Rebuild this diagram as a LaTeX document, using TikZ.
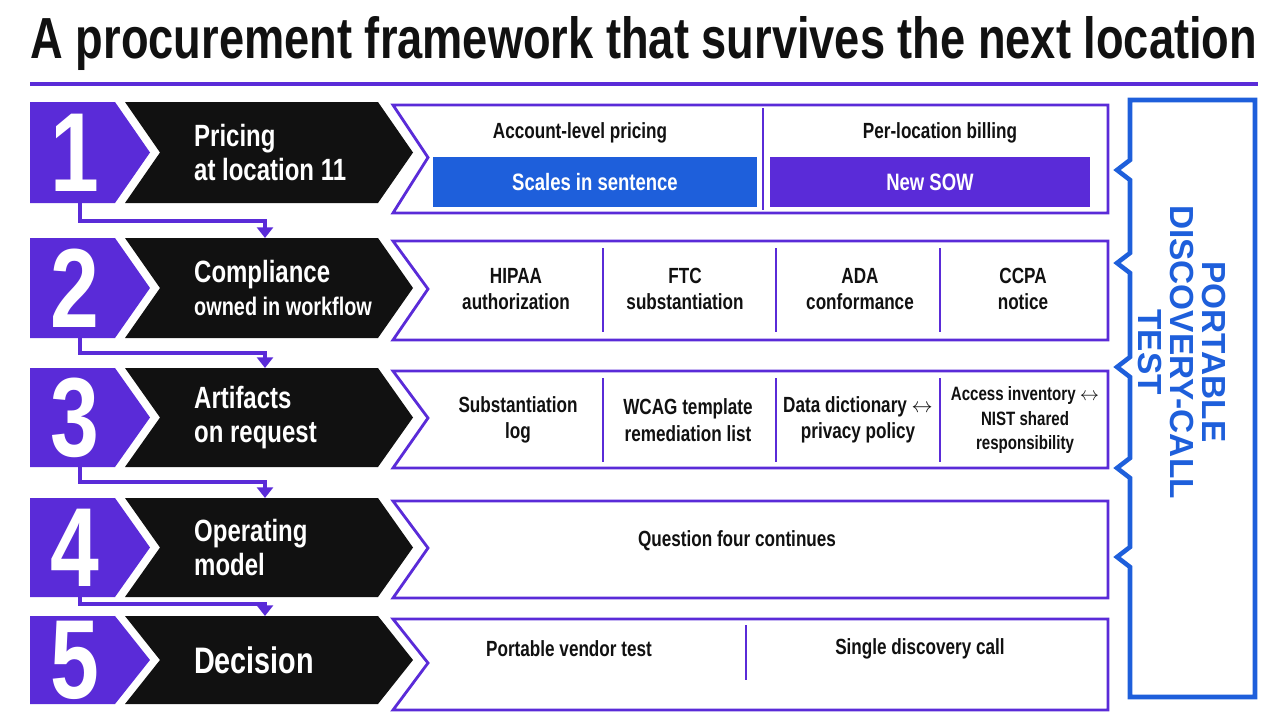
\documentclass[tikz,border=0pt]{standalone}
\usepackage{fontspec}
\setmainfont{Liberation Sans}
\newfontfamily\cond[FakeStretch=0.78]{Liberation Sans}
\usetikzlibrary{arrows.meta, positioning, calc}
\definecolor{violet}{HTML}{5A2BD8}
\definecolor{ink}{HTML}{111111}
\definecolor{royal}{HTML}{1E5FDB}

\begin{document}
\begin{tikzpicture}[
  x=0.02cm, y=-0.02cm,
  title/.style={font=\cond\bfseries\fontsize{33}{36}\selectfont, text=ink},
  num/.style={font=\cond\bfseries\fontsize{64}{66}\selectfont, text=white},
  tag/.style={font=\cond\bfseries\fontsize{17.5}{19}\selectfont, text=white, align=left, anchor=west},
  cell/.style={font=\cond\bfseries\fontsize{12.5}{15}\selectfont, text=ink, align=center},
  pill/.style={font=\cond\bfseries\fontsize{13.5}{15}\selectfont, text=white, minimum height=1cm},
  frame/.style={draw=violet, line width=1.6pt, fill=white},
  split/.style={draw=violet, line width=1pt},
  link/.style={draw=violet, line width=2pt, -{Triangle[length=6pt,width=9pt]}}
]
  \useasboundingbox (0,0) rectangle (1280,720);

  % Title
  \node[title] (head) at (644,44) {A procurement framework that survives the next location};
  \draw[violet, line width=2pt] (30,84) -- (1258,84);

  % Rows: index / top / bottom / box bottom / label
  \foreach \i/\t/\b/\e/\lab in {1/102/203/213/{Pricing\\at location 11},
                            2/238/338/340/{Compliance\\{\fontsize{14.5}{17}\selectfont owned in workflow}},
                            3/368/467/468/{Artifacts\\on request},
                            4/498/597/598/{Operating\\model},
                            5/616/704/710/{\fontsize{21}{22}\selectfont Decision}} {
    \pgfmathsetmacro{\m}{(\t+\b)/2}
    \fill[violet] (30,\t) -- (115,\t) -- (150,\m) -- (115,\b) -- (30,\b) -- cycle;
    \fill[ink] (125,\t) -- (378,\t) -- (413,\m) -- (378,\b) -- (125,\b) -- (160,\m) -- cycle;
    \path[frame] (393,\t+3) -- (1108,\t+3) -- (1108,\e) -- (393,\e) -- (428,\t/2+\e/2) -- cycle;
    \node[num] (num\i) at (75,\m) {\i};
    \node[tag] (tag\i) at (188,\m) {\lab};
    \coordinate (sq\i) at (80,\b);
    \coordinate (in\i) at (265,\t);
  }

  % Row 1
  \draw[split] (763,108) -- (763,210);
  \node[cell] (acct) at (580,133) {Account-level pricing};
  \node[cell] (perloc) at (940,133) {Per-location billing};
  \node[pill, fill=royal, minimum width=6.48cm] (scale) at (595,182) {Scales in sentence};
  \node[pill, fill=violet, minimum width=6.4cm] (sow) at (930,182) {New SOW};

  % Rows 2 and 3
  \foreach \x in {603,776,940} {
    \draw[split] (\x,248) -- (\x,332);
    \draw[split] (\x,378) -- (\x,462);
  }
  \node[cell] (hipaa) at (516,289) {HIPAA\\authorization};
  \node[cell] (ftc) at (685,289) {FTC\\substantiation};
  \node[cell] (ada) at (860,289) {ADA\\conformance};
  \node[cell] (ccpa) at (1023,289) {CCPA\\notice};
  \node[cell] (sublog) at (518,420) {Substantiation\\log};
  \node[cell] (wcag) at (688,420) {WCAG template\\remediation list};
  \node[cell] (dict) at (858,420) {Data dictionary $\leftrightarrow$\\privacy policy};
  \node[cell, font=\cond\bfseries\fontsize{11}{14}\selectfont] (access) at (1025,420)
    {Access inventory $\leftrightarrow$\\NIST shared\\responsibility};

  % Row 4
  \node[cell] (q4) at (737,541) {Question four continues};

  % Row 5
  \draw[split] (746,625) -- (746,680);
  \node[cell] (vendor) at (569,649) {Portable vendor test};
  \node[cell] (single) at (920,649) {Single discovery call};

  % Step connectors
  \foreach \i/\d [evaluate=\i as \j using int(\i+1)] in {1/18,2/15,3/15,4/7}
    \draw[link] (sq\i) -- ++(0,\d) -| (in\j);

  % Side bracket
  \draw[royal, line width=2.6pt, fill=white] (1130,100) -- (1255,100) -- (1255,697) -- (1130,697)
    \foreach \y in {557,468,367,263,170} { -- (1130,\y+10) -- (1117,\y) -- (1130,\y-10) } -- cycle;
  \node[font=\fontsize{19}{18}\selectfont\bfseries, text=royal, rotate=-90, align=center]
    (portable) at (1182,352) {PORTABLE\\DISCOVERY-CALL\\TEST};
\end{tikzpicture}
\end{document}
